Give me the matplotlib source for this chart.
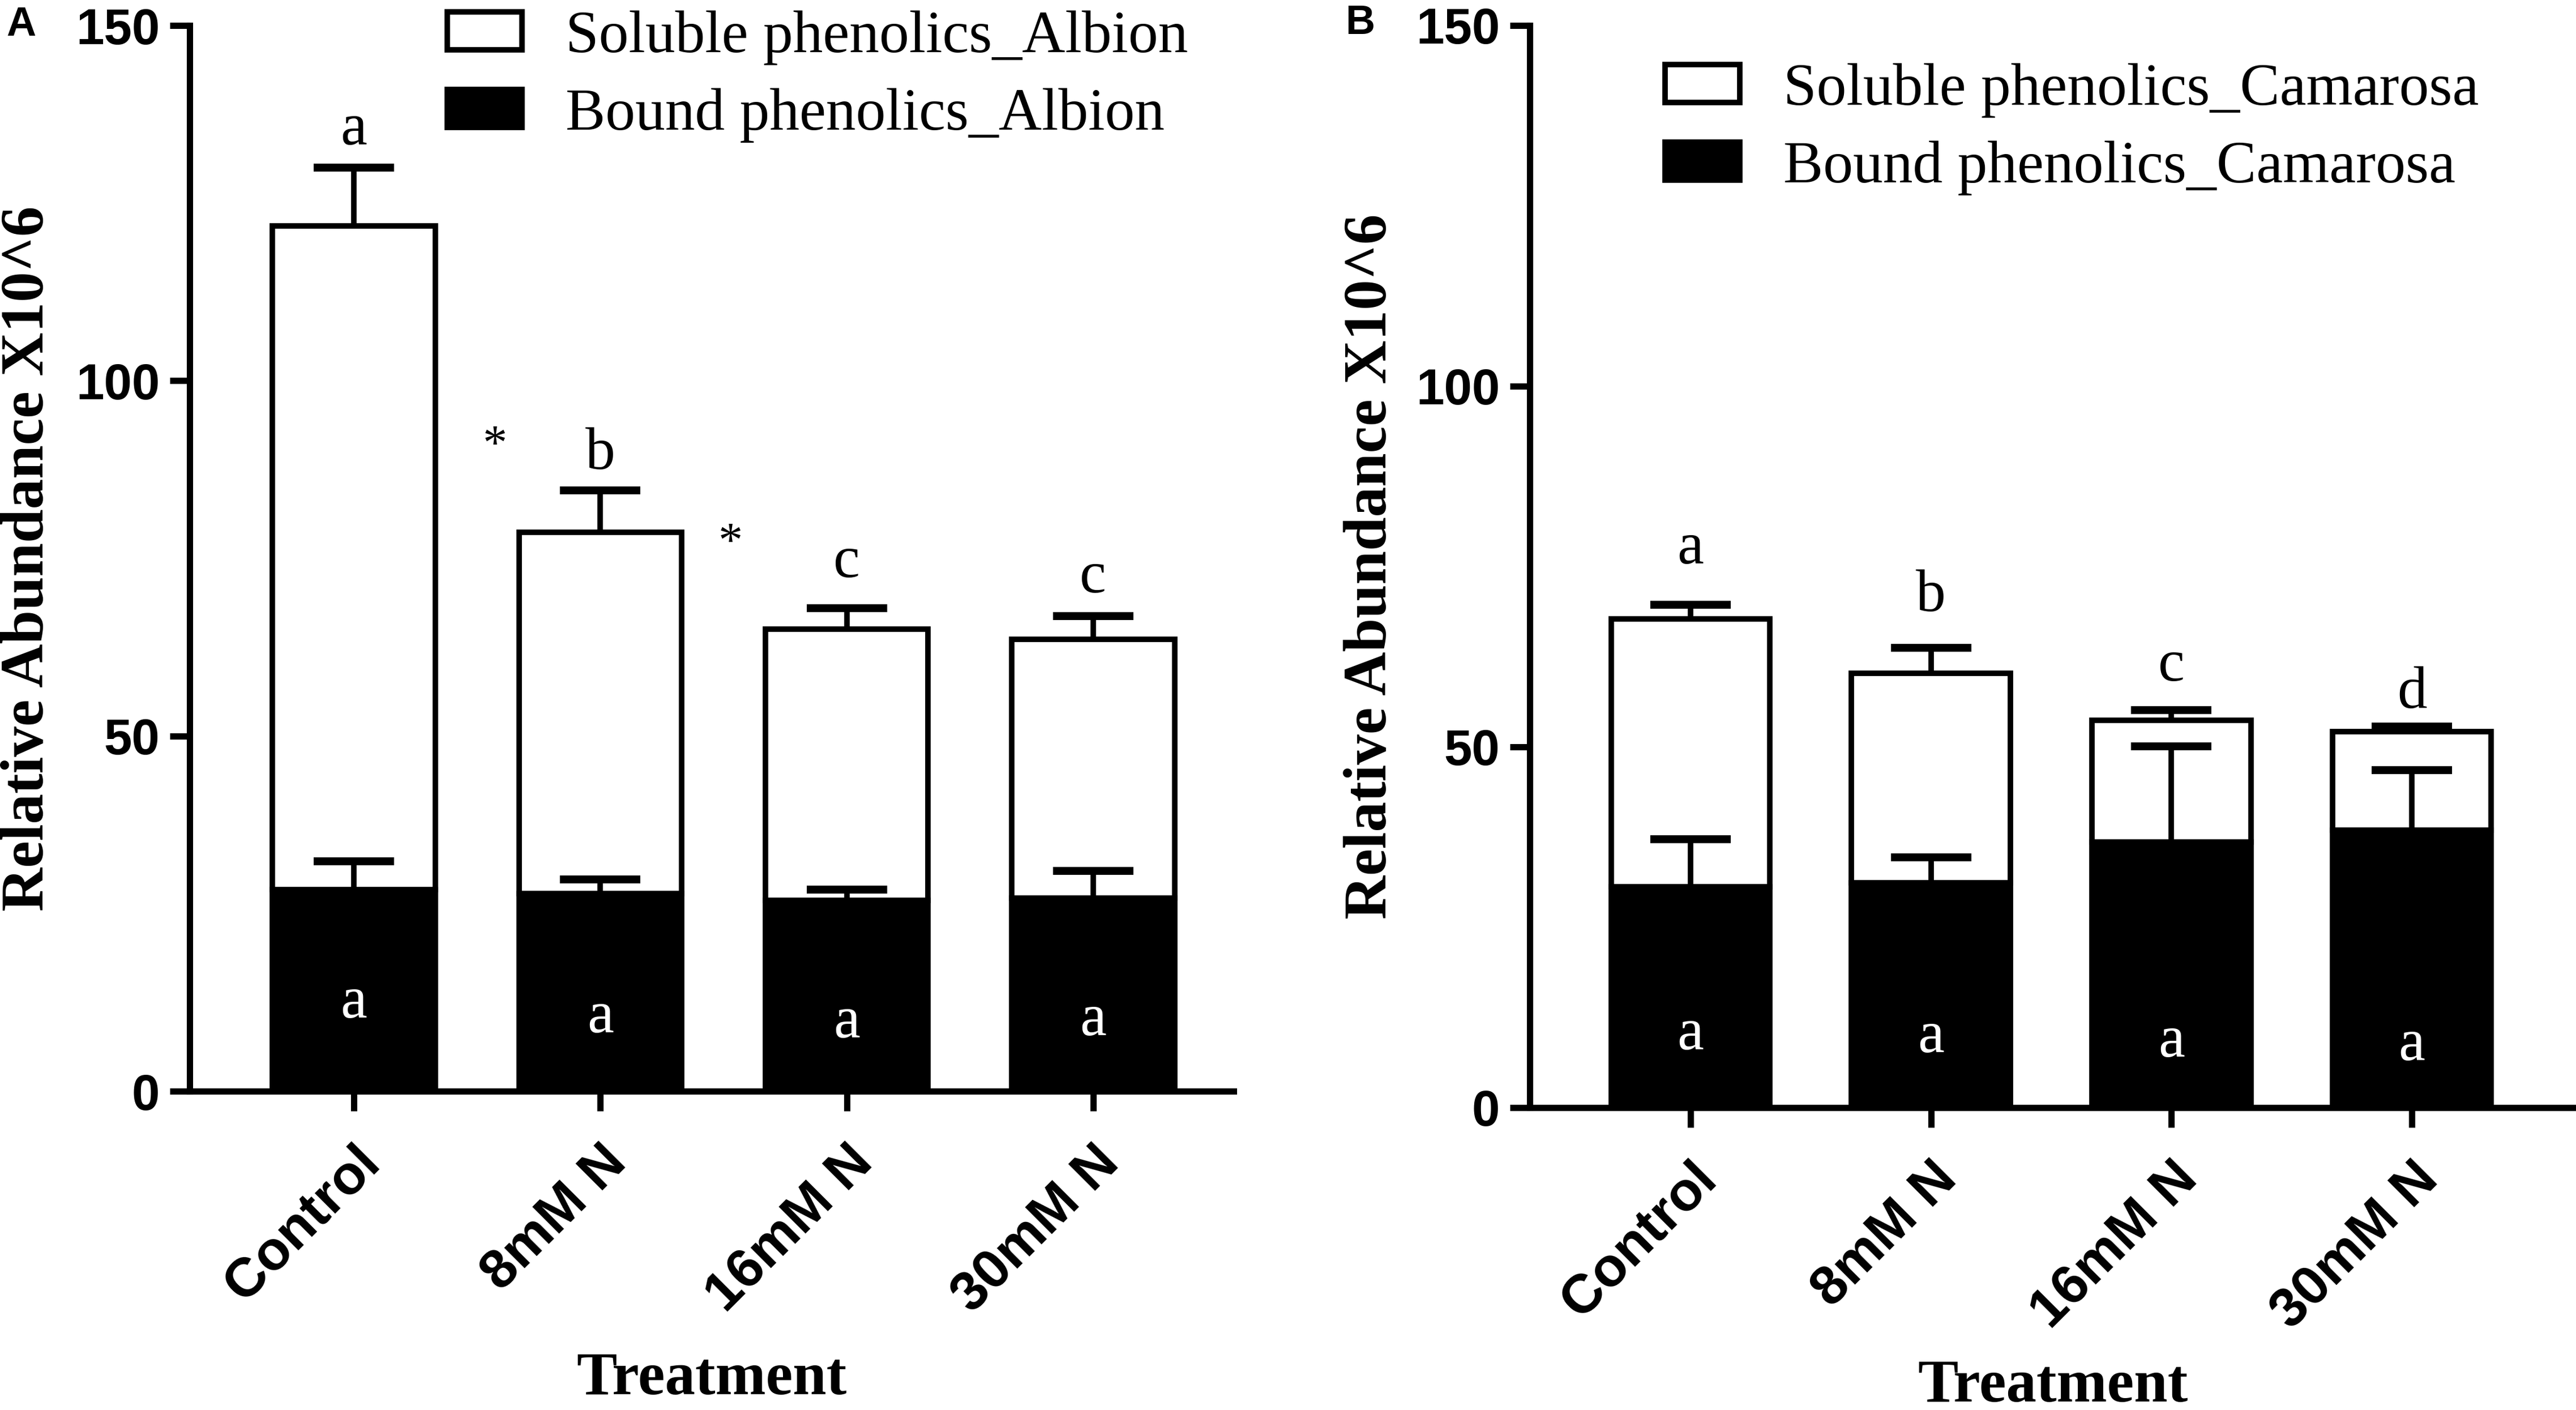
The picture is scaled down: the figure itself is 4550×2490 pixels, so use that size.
import numpy as np
import matplotlib.pyplot as plt
from matplotlib.patches import Patch

# Treatments on the x axis
treatments = ['Control', '8mM N', '16mM N', '30mM N']

# Panel A - Albion (values X10^6)
albion_bound = [28.4, 27.8, 26.9, 27.2]
albion_bound_err = [4.0, 2.0, 1.5, 3.8]
albion_soluble = [93.4, 50.9, 38.1, 36.4]
albion_soluble_err = [8.2, 5.9, 3.0, 3.3]
albion_top_letters = ['a', 'b', 'c', 'c']
albion_top_y = [133.3, 87.6, 72.4, 70.2]
albion_in_letters = ['a', 'a', 'a', 'a']
albion_in_y = [10.4, 8.3, 7.6, 7.9]
albion_star_x = [0.574, 1.528]
albion_star_y = [89.0, 75.3]

# Panel B - Camarosa
camarosa_bound = [30.6, 31.2, 36.8, 38.5]
camarosa_bound_err = [6.6, 3.5, 13.3, 8.3]
camarosa_soluble = [37.1, 29.0, 16.9, 13.6]
camarosa_soluble_err = [2.0, 3.5, 1.4, 0.7]
camarosa_top_letters = ['a', 'b', 'c', 'd']
camarosa_top_y = [75.4, 68.8, 59.2, 55.4]
camarosa_in_letters = ['a', 'a', 'a', 'a']
camarosa_in_y = [8.1, 7.7, 7.1, 6.6]

SANS = 'Liberation Sans'
SERIF = 'Liberation Serif'

fig = plt.figure(figsize=(45.5, 24.9), dpi=100)


def upper_errorbar(ax, x, y, err):
    # GraphPad style: only the upper half of the error bar, so hide the lower caps
    eb = ax.errorbar(x, y, yerr=[np.zeros(len(x)), err], fmt='none', ecolor='black',
                     elinewidth=7, capsize=51, capthick=10, zorder=3)
    eb[1][0].set_visible(False)
    return eb


def draw_panel(ax, bound, bound_err, soluble, soluble_err, top_letters, top_y,
               in_letters, in_y, cultivar, xlim, label_x, xlabel_y, legend_xy):
    x = np.arange(len(treatments))
    bound = np.array(bound)
    soluble = np.array(soluble)
    width = 0.66

    # Stacked bars: bound at bottom, soluble on top
    ax.bar(x, bound, width, color='black', edgecolor='black', linewidth=7, zorder=2)
    ax.bar(x, soluble, width, bottom=bound, color='white', edgecolor='black',
           linewidth=7, zorder=2)

    upper_errorbar(ax, x, bound + soluble, soluble_err)
    upper_errorbar(ax, x, bound, bound_err)

    # Significance letters
    for xi, t, yv in zip(x, top_letters, top_y):
        ax.text(xi, yv, t, ha='center', va='baseline', fontsize=76, family=SERIF, zorder=4)
    for xi, t, yv in zip(x, in_letters, in_y):
        ax.text(xi, yv, t, ha='center', va='baseline', fontsize=76, family=SERIF,
                color='white', zorder=4)

    ax.set_xlim(*xlim)
    ax.set_ylim(0, 150)
    ax.set_yticks([0, 50, 100, 150])
    ax.set_xticks(x)
    ax.set_xticklabels(treatments)

    for side in ['top', 'right']:
        ax.spines[side].set_visible(False)
    for side in ['left', 'bottom']:
        ax.spines[side].set_linewidth(8)

    ax.tick_params(axis='y', length=25, width=8, pad=13, labelsize=64)
    ax.tick_params(axis='x', length=25, width=8, pad=33, labelsize=70)
    for lab in ax.get_yticklabels():
        lab.set_family(SANS)
        lab.set_fontweight('bold')
    for lab in ax.get_xticklabels():
        lab.set_family(SANS)
        lab.set_fontweight('bold')
        lab.set_rotation(45)
        lab.set_ha('right')
        lab.set_va('top')
        lab.set_rotation_mode('anchor')

    ax.set_ylabel('Relative Abundance X10^6', fontsize=77, family=SERIF, fontweight='bold')
    ax.yaxis.set_label_coords(label_x, 0.5)
    ax.yaxis.label.set_va('center')
    ax.set_xlabel('Treatment', fontsize=77, family=SERIF, fontweight='bold')
    ax.xaxis.set_label_coords(0.5, xlabel_y)
    ax.xaxis.label.set_va('center')

    handles = [Patch(facecolor='white', edgecolor='black', linewidth=7),
               Patch(facecolor='black', edgecolor='black', linewidth=7)]
    labels = ['Soluble phenolics_' + cultivar, 'Bound phenolics_' + cultivar]
    ax.legend(handles, labels, loc='center left', bbox_to_anchor=legend_xy,
              bbox_transform=fig.transFigure, frameon=False,
              prop={'family': SERIF, 'size': 76}, handlelength=1.25,
              handleheight=0.6, handletextpad=0.73, labelspacing=0.38,
              borderpad=0, borderaxespad=0)


# Panel A
ax1 = fig.add_axes([0.07363, 0.22610, 0.40527, 0.75582])
draw_panel(ax1, albion_bound, albion_bound_err, albion_soluble, albion_soluble_err,
           albion_top_letters, albion_top_y, albion_in_letters, albion_in_y,
           'Albion', (-0.666, 3.57), -0.1546, -0.2705, (0.1736, 0.9458))
for sx, sy in zip(albion_star_x, albion_star_y):
    ax1.text(sx, sy, '*', ha='center', va='baseline', fontsize=62, family=SERIF)

# Panel B
ax2 = fig.add_axes([0.59385, 0.21446, 0.40593, 0.76747])
draw_panel(ax2, camarosa_bound, camarosa_bound_err, camarosa_soluble, camarosa_soluble_err,
           camarosa_top_letters, camarosa_top_y, camarosa_in_letters, camarosa_in_y,
           'Camarosa', (-0.668, 3.68), -0.1516, -0.2580, (0.6464, 0.9084))

# Panel letters
fig.text(37 / 4550, 1 - 44 / 2490, 'A', ha='center', va='center', fontsize=52,
         family=SANS, fontweight='bold')
fig.text(2402 / 4550, 1 - 41 / 2490, 'B', ha='center', va='center', fontsize=52,
         family=SANS, fontweight='bold')

fig.savefig('out.png', dpi=100)
